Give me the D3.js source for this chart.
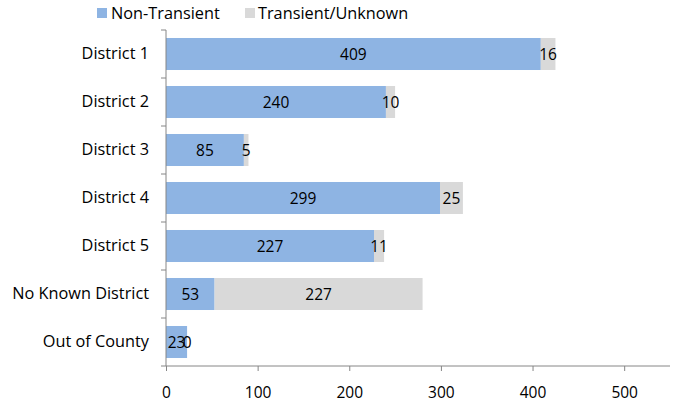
<!DOCTYPE html>
<html><head><meta charset="utf-8">
<script src="https://cdn.jsdelivr.net/npm/d3@7"></script>
<style>body{margin:0;background:#fff}text{font-family:"Open Sans",sans-serif;}</style>
</head><body>
<svg id="c" width="673" height="402"></svg>
<script>
const categories = ["District 1","District 2","District 3","District 4","District 5","No Known District","Out of County"];
const nonTransient = [409,240,85,299,227,53,23];
const transient = [16,10,5,25,11,227,0];
const xTicks = [0,100,200,300,400,500];
const seriesNames = ["Non-Transient","Transient/Unknown"];
const colors = ["#8EB4E3","#D9D9D9"];

const svg = d3.select("#c");
const x = d3.scaleLinear().domain([0,550]).range([166,670]);
const y = d3.scaleBand().domain(categories).range([30,366]).paddingInner(0.333).paddingOuter(0.1665);
const axisColor = "#868686";
const fsText = 16.3;
const fsNum = 15.5;
const ff = "'Open Sans', sans-serif";

const data = categories.map((c,i)=>({c, a:nonTransient[i], b:transient[i]}));

data.forEach(d=>{
  svg.append("rect").attr("x",x(0)).attr("y",y(d.c)).attr("width",x(d.a)-x(0)).attr("height",y.bandwidth()).attr("fill",colors[0]);
  svg.append("rect").attr("x",x(d.a)).attr("y",y(d.c)).attr("width",x(d.a+d.b)-x(d.a)).attr("height",y.bandwidth()).attr("fill",colors[1]);
  svg.append("text").attr("x",(x(0)+x(d.a))/2).attr("y",y(d.c)+y.bandwidth()/2).attr("dy","0.36em").attr("text-anchor","middle").attr("font-size",fsNum).attr("fill","#000").text(d.a);
  svg.append("text").attr("x",(x(d.a)+x(d.a+d.b))/2).attr("y",y(d.c)+y.bandwidth()/2).attr("dy","0.36em").attr("text-anchor","middle").attr("font-size",fsNum).attr("fill","#000").text(d.b);
});

const xa = svg.append("g").attr("transform","translate(0,366)")
  .call(d3.axisBottom(x).tickValues(xTicks).tickSize(5).tickPadding(16));
xa.select(".domain").attr("stroke",axisColor).attr("d","M166,0H670");
xa.selectAll(".tick line").attr("stroke",axisColor);
xa.selectAll(".tick text").attr("font-size",fsNum).attr("fill","#000").attr("font-family",ff);

const ya = svg.append("g").attr("transform","translate(166,0)")
  .call(d3.axisLeft(y).tickSize(0).tickPadding(17));
ya.select(".domain").attr("stroke",axisColor).attr("d","M0,30V366");
ya.selectAll(".tick text").attr("font-size",fsText).attr("fill","#000").attr("font-family",ff);
const seps = d3.range(categories.length+1).map(i=>y.range()[0]+i*y.step());
ya.selectAll(".sep").data(seps).join("line").attr("class","sep")
  .attr("x1",-5).attr("x2",0).attr("y1",d=>d).attr("y2",d=>d).attr("stroke",axisColor);

const leg = [{x:97,tx:111},{x:245,tx:258}];
seriesNames.forEach((n,i)=>{
  svg.append("rect").attr("x",leg[i].x).attr("y",8).attr("width",10).attr("height",10).attr("fill",colors[i]);
  svg.append("text").attr("x",leg[i].tx).attr("y",13).attr("dy","0.36em").attr("font-size",fsText).attr("fill","#000").text(n);
});
</script>
</body></html>
